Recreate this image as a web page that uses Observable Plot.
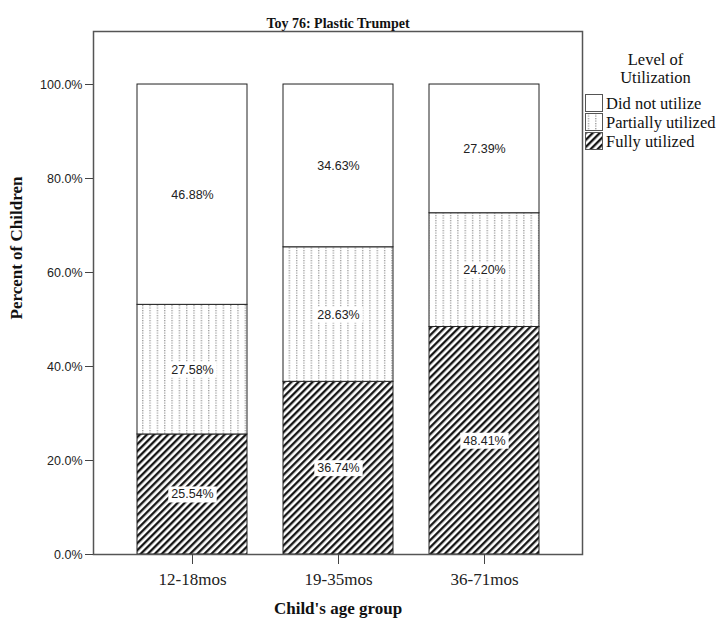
<!DOCTYPE html>
<html><head><meta charset="utf-8">
<script src="https://cdn.jsdelivr.net/npm/d3@7"></script>
<script src="https://cdn.jsdelivr.net/npm/@observablehq/plot@0.6"></script>
<style>
body{margin:0;background:#fff;}
#wrap{position:relative;width:726px;height:621px;overflow:hidden;}
#legend{position:absolute;left:585px;top:51px;width:141px;font-family:"Liberation Serif","Times New Roman",serif;font-size:16.5px;color:#111;}
#legend .lt{text-align:center;line-height:18px;margin-bottom:7px;}
#legend .row{display:flex;align-items:center;height:19px;white-space:nowrap;}
#legend .row svg{flex:none;margin-right:2px;}
</style></head><body><div id="wrap"></div>
<script>
const ageGroups = ["12-18mos", "19-35mos", "36-71mos"];
const levels = ["Fully utilized", "Partially utilized", "Did not utilize"];
const fullyUtilized = [25.54, 36.74, 48.41];
const partiallyUtilized = [27.58, 28.63, 24.20];
const didNotUtilize = [46.88, 34.63, 27.39];
const yTicks = [0, 20, 40, 60, 80, 100];
const title = "Toy 76: Plastic Trumpet";
const yLabel = "Percent of Children";
const xLabel = "Child's age group";
const legendTitle = ["Level of", "Utilization"];
const legendOrder = ["Did not utilize", "Partially utilized", "Fully utilized"];
const levelFills = ["url(#hatch)", "url(#dots)", "white"];

const series = [fullyUtilized, partiallyUtilized, didNotUtilize];
const rows = [];
ageGroups.forEach((age, i) => {
  levels.forEach((level, j) => rows.push({age, level, value: series[j][i]}));
});

const serif = "Liberation Serif, Times New Roman, serif";
const sans = "Liberation Sans, Arial, sans-serif";

const chart = Plot.plot({
  width: 726, height: 621,
  marginLeft: 93, marginRight: 144, marginTop: 31, marginBottom: 67,
  style: {background: "white", color: "#222"},
  x: {domain: ageGroups, paddingInner: 0.25, paddingOuter: 0.2917, label: null},
  y: {domain: [0, 111.28], label: null},
  color: {type: "ordinal", domain: levels, range: levelFills},
  marks: [
    Plot.barY(rows, Plot.stackY({x: "age", y: "value", fill: "level", stroke: "#222", strokeWidth: 1})),
    Plot.text(rows, Plot.stackY({x: "age", y: "value", text: d => d.value.toFixed(2) + "%",
      fontFamily: sans, fontSize: 12.5, fill: "#222"})),
    Plot.frame({stroke: "#555", strokeWidth: 1.5}),
    Plot.axisY({ticks: yTicks, tickSize: 8, tickPadding: 3, tickFormat: d => d.toFixed(1) + "%",
      fontFamily: sans, fontSize: 12.5, label: null, stroke: "#444"}),
    Plot.axisX({tickSize: 10, tickPadding: 8, fontFamily: serif, fontSize: 17, label: null, stroke: "#444"}),
    Plot.text([title], {frameAnchor: "top", dy: -13, fontFamily: serif, fontWeight: "bold", fontSize: 14, fill: "#111"}),
    Plot.text([50], {y: d => d, frameAnchor: "left", dx: -77, rotate: -90, text: () => yLabel,
      fontFamily: serif, fontWeight: "bold", fontSize: 17, fill: "#111"}),
    Plot.text([xLabel], {frameAnchor: "bottom", dy: 59, fontFamily: serif, fontWeight: "bold", fontSize: 17, fill: "#111"})
  ]
});

const defs = d3.select(chart).insert("defs", ":first-child");
const hatch = defs.append("pattern").attr("id", "hatch").attr("patternUnits", "userSpaceOnUse")
  .attr("width", 5).attr("height", 5).attr("patternTransform", "rotate(45)");
hatch.append("rect").attr("width", 5).attr("height", 5).attr("fill", "white");
hatch.append("line").attr("x1", 1.2).attr("x2", 1.2).attr("y1", 0).attr("y2", 5)
  .attr("stroke", "#111").attr("stroke-width", 2.3);
const dots = defs.append("pattern").attr("id", "dots").attr("patternUnits", "userSpaceOnUse")
  .attr("width", 7.33).attr("height", 2.5);
dots.append("rect").attr("width", 7.33).attr("height", 2.5).attr("fill", "white");
dots.append("rect").attr("x", 3).attr("y", 0).attr("width", 1).attr("height", 1.2).attr("fill", "#777");

document.getElementById("wrap").appendChild(chart);

const segGroup = d3.select(chart).select('g[aria-label="text"]');
segGroup.selectAll("text").each(function() {
  const b = this.getBBox();
  const r = document.createElementNS("http://www.w3.org/2000/svg", "rect");
  r.setAttribute("x", b.x - 3); r.setAttribute("y", b.y - 1);
  r.setAttribute("width", b.width + 6); r.setAttribute("height", b.height + 2);
  r.setAttribute("fill", "white");
  const t = this.getAttribute("transform"); if (t) r.setAttribute("transform", t);
  this.parentNode.insertBefore(r, this);
});

const legend = d3.select("#wrap").append("div").attr("id", "legend");
legend.append("div").attr("class", "lt").html(legendTitle.join("<br>"));
legendOrder.forEach(level => {
  const row = legend.append("div").attr("class", "row");
  const s = row.append("svg").attr("width", 19).attr("height", 19);
  s.append("rect").attr("x", 0.5).attr("y", 0.5).attr("width", 17).attr("height", 17)
    .attr("fill", levelFills[levels.indexOf(level)]).attr("stroke", "#555");
  row.append("span").text(level);
});
</script></body></html>
